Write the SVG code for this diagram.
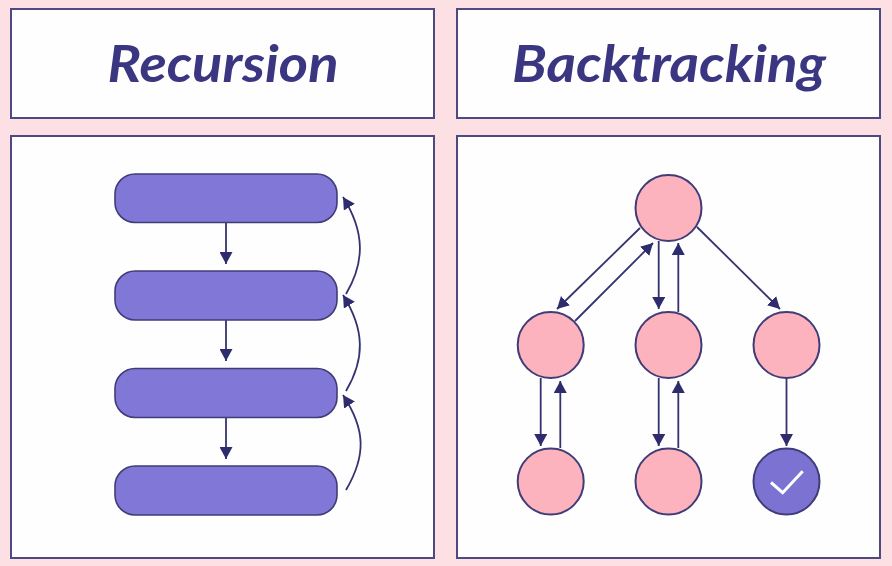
<svg xmlns="http://www.w3.org/2000/svg" width="892" height="566" viewBox="0 0 892 566">
<style>
.panel{fill:#fefefe;stroke:#4d4a83;stroke-width:2}
.title{font-family:"Lato","Noto Sans",sans-serif;font-style:italic;font-weight:700;font-size:52px;fill:#3b3682;text-anchor:middle}
.bar{fill:#8077d6;stroke:#3f3c78;stroke-width:1.6}
.pink{fill:#fcb3be;stroke:#3f3c78;stroke-width:2}
.done{fill:#7c72d2;stroke:#3f3c78;stroke-width:2}
.link{fill:none;stroke:#35336f;stroke-width:1.8;marker-end:url(#head)}
.check{fill:none;stroke:#fff;stroke-width:3}
</style>
<defs>
<marker id="head" markerUnits="userSpaceOnUse" markerWidth="12" markerHeight="13" viewBox="0 0 11 12" refX="11" refY="6" orient="auto">
<path d="M0 0L11 6L0 12Z" fill="#2f2c6e"/>
</marker>
</defs>
<rect width="892" height="566" fill="#fde0e3"/>
<g id="panels">
<rect class="panel" x="11" y="9" width="423" height="109"/>
<rect class="panel" x="457" y="9" width="423" height="109"/>
<rect class="panel" x="11" y="136" width="423" height="422"/>
<rect class="panel" x="457" y="136" width="423" height="422"/>
</g>
<text id="title-recursion" class="title" x="223" y="82" textLength="231" lengthAdjust="spacingAndGlyphs">Recursion</text>
<text id="title-backtracking" class="title" x="669" y="82" textLength="314" lengthAdjust="spacingAndGlyphs">Backtracking</text>
<g id="connectors">
<path class="link" d="M226 222V264"/>
<path class="link" d="M226 320V361"/>
<path class="link" d="M226 417V459"/>
<path class="link" d="M346 294C365 262 365 232 343 197"/>
<path class="link" d="M346 391C365 359 365 330 343 295"/>
<path class="link" d="M346 490C366 456 366 430 343 395"/>
<path class="link" d="M640 228L557 309"/>
<path class="link" d="M575 321L653 243"/>
<path class="link" d="M658.7 241V309"/>
<path class="link" d="M678.3 312V243"/>
<path class="link" d="M697 227L780 309"/>
<path class="link" d="M540.7 378V446"/>
<path class="link" d="M560.3 448V381"/>
<path class="link" d="M658.7 378V446"/>
<path class="link" d="M678.3 448V381"/>
<path class="link" d="M786.5 378V446"/>
</g>
<g id="bar-1"><rect class="bar" x="115" y="174" width="222" height="48.500" rx="20"/></g>
<g id="bar-2"><rect class="bar" x="115" y="271" width="222" height="49" rx="20"/></g>
<g id="bar-3"><rect class="bar" x="115" y="368.500" width="222" height="49" rx="20"/></g>
<g id="bar-4"><rect class="bar" x="115" y="466" width="222" height="49" rx="20"/></g>
<g id="node-root"><circle class="pink" cx="668.500" cy="208" r="33"/></g>
<g id="node-left"><circle class="pink" cx="550.700" cy="345" r="33"/></g>
<g id="node-mid"><circle class="pink" cx="668.500" cy="345" r="33"/></g>
<g id="node-right"><circle class="pink" cx="786.500" cy="345" r="33"/></g>
<g id="node-left-leaf"><circle class="pink" cx="550.700" cy="481.500" r="33"/></g>
<g id="node-mid-leaf"><circle class="pink" cx="668.500" cy="481.500" r="33"/></g>
<g id="node-goal"><circle class="done" cx="786.500" cy="481.500" r="33"/>
<path class="check" d="M771 482.500L782.700 492.700L802.700 471.300"/></g>
</svg>
